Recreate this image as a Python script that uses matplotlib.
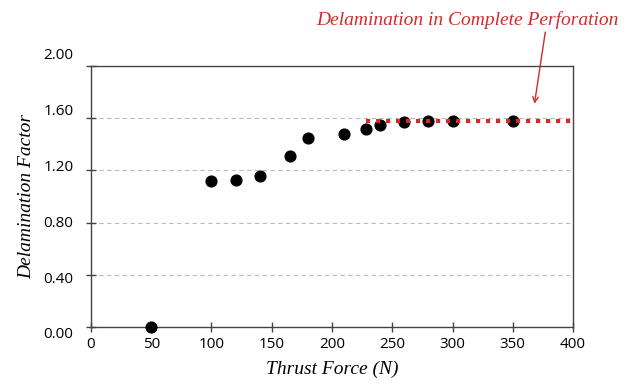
import matplotlib.pyplot as plt
import matplotlib.transforms as mtransforms

# thrust force (N) vs measured delamination factor
thrust = [50, 100, 120, 140, 165, 180, 210, 228, 240, 260, 280, 300, 350]
delam = [0.00, 1.12, 1.13, 1.16, 1.31, 1.45, 1.48, 1.52, 1.55, 1.57, 1.58, 1.58, 1.58]

# level reached at complete perforation
perf_x = [228, 400]
perf_y = [1.58, 1.58]

y_ticks = [0.0, 0.4, 0.8, 1.2, 1.6, 2.0]
x_ticks = list(range(0, 401, 50))

serif = ['Liberation Serif', 'DejaVu Serif']
red = '#d42a2a'

fig = plt.figure(figsize=(6.34, 3.86), dpi=100)
ax = fig.add_axes([0.1435, 0.153, 0.7603, 0.676])

ax.scatter(thrust, delam, s=60, color='black', zorder=3, clip_on=False)
ax.plot(perf_x, perf_y, color=red, linestyle=(0, (1, 1.4)), linewidth=3, zorder=4)

ax.set_xlim(0, 400)
ax.set_ylim(0, 2.0)
ax.set_xticks(x_ticks)
ax.set_yticks(y_ticks)
ax.set_yticklabels([f'{v:.2f}' for v in y_ticks])

for y in y_ticks[1:-1]:
    ax.axhline(y, color='#bbbbbb', linestyle=(0, (4, 3)), linewidth=0.8, zorder=1)

for side in ['top', 'right', 'left', 'bottom']:
    ax.spines[side].set_color('#444444')
    ax.spines[side].set_linewidth(1.0)
ax.tick_params(axis='both', direction='inout', length=7, width=1, color='#444444',
               labelsize=11, labelcolor='black')
ax.tick_params(axis='y', pad=9)
ax.tick_params(axis='x', pad=4)
for lab in ax.get_xticklabels() + ax.get_yticklabels():
    lab.set_fontfamily('Open Sans')

# y labels are spread slightly wider than the tick spacing
label_shift = [-6, -3, 1, 5, 9, 13]
for lab, dy in zip(ax.get_yticklabels(), label_shift):
    lab.set_transform(lab.get_transform() +
                      mtransforms.ScaledTranslation(0, dy / 100, fig.dpi_scale_trans))

ax.set_xlabel('Thrust Force (N)', fontsize=14, fontstyle='italic', family=serif, labelpad=6)
ax.set_ylabel('Delamination Factor', fontsize=14, fontstyle='italic', family=serif, labelpad=6)

ax.text(312, 2.35, 'Delamination in Complete Perforation', ha='center', va='center',
        color=red, fontsize=14, fontstyle='italic', family=serif, clip_on=False)
ax.annotate('', xy=(368, 1.71), xytext=(377, 2.26), annotation_clip=False,
            arrowprops=dict(arrowstyle='->', color=red, lw=1, shrinkA=0, shrinkB=0))

fig.savefig('out.png', dpi=100)
